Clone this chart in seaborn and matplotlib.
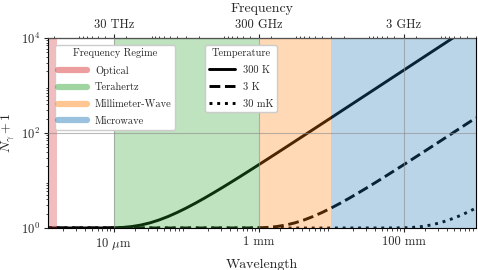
import numpy as np
import pandas as pd
import matplotlib
matplotlib.use("Agg")
import matplotlib.pyplot as plt
import matplotlib.ticker as mticker
from matplotlib.lines import Line2D
import seaborn as sns

# ---- data ----
wl_300K = [1.0e-6, 3.162e-6, 5.623e-6, 7.499e-6, 1.0e-5, 1.3335e-5, 1.778e-5, 2.371e-5,
           3.162e-5, 4.217e-5, 5.623e-5, 7.499e-5, 1.0e-4, 1.3335e-4, 1.778e-4, 2.371e-4,
           3.162e-4, 4.217e-4, 5.623e-4, 1.0e-3, 1.778e-3, 3.162e-3, 1.0e-2, 3.162e-2,
           1.0e-1, 3.162e-1, 1.0]
n_300K = [1.0, 1.0, 1.0002, 1.0017, 1.0083, 1.028, 1.072, 1.153,
          1.281, 1.472, 1.743, 2.117, 2.625, 3.310, 4.230, 5.461,
          7.106, 9.302, 12.23, 21.35, 37.58, 66.44, 209.0, 659.9,
          2086.0, 6595.0, 20851.0]

wl_3K = [1.0e-6, 1.0e-4, 3.162e-4, 5.623e-4, 7.499e-4, 1.0e-3, 1.3335e-3, 1.778e-3,
         2.371e-3, 3.162e-3, 4.217e-3, 5.623e-3, 7.499e-3, 1.0e-2, 1.3335e-2, 1.778e-2,
         2.371e-2, 3.162e-2, 4.217e-2, 5.623e-2, 1.0e-1, 1.778e-1, 3.162e-1, 1.0]
n_3K = [1.0, 1.0, 1.0, 1.0002, 1.0017, 1.0083, 1.028, 1.072,
        1.153, 1.281, 1.472, 1.743, 2.117, 2.625, 3.310, 4.230,
        5.461, 7.106, 9.302, 12.23, 21.35, 37.58, 66.44, 209.0]

wl_30mK = [1.0e-6, 1.0e-2, 3.162e-2, 5.623e-2, 7.499e-2, 1.0e-1, 1.3335e-1, 1.778e-1,
           2.371e-1, 3.162e-1, 4.217e-1, 5.623e-1, 7.499e-1, 1.0]
n_30mK = [1.0, 1.0, 1.0, 1.0002, 1.0017, 1.0083, 1.028, 1.072,
          1.153, 1.281, 1.472, 1.743, 2.117, 2.625]

temperature_labels = ["300 K", "3 K", "30 mK"]
temperature_styles = ["-", "--", ":"]

regime_names = ["Optical", "Terahertz", "Millimeter-Wave", "Microwave"]
regime_start_m = [1.24e-6, 1.0e-5, 1.0e-3, 1.0e-2]
regime_end_m = [1.66e-6, 1.0e-3, 1.0e-2, 1.0]
regime_colors = ["tab:red", "tab:green", "tab:orange", "tab:blue"]

x_ticks_m = [1e-5, 1e-3, 1e-1]
x_tick_labels = [r"10 $\mu$m", "1 mm", "100 mm"]
f_ticks_hz = [3e13, 3e11, 3e9]
f_tick_labels = ["30 THz", "300 GHz", "3 GHz"]

C = 3e8

sns.set_style("ticks")
plt.rcParams["font.family"] = ["cmr10", "DejaVu Serif"]
plt.rcParams["mathtext.fontset"] = "cm"
plt.rcParams["axes.formatter.use_mathtext"] = True
plt.rcParams["axes.unicode_minus"] = False

fig = plt.figure(figsize=(4.78, 2.70), dpi=100)
ax = fig.add_axes([0.1004, 0.1556, 0.8954, 0.7037])

curves = [(wl_300K, n_300K), (wl_3K, n_3K), (wl_30mK, n_30mK)]
frames = []
for (wl, n), lab in zip(curves, temperature_labels):
    frames.append(pd.DataFrame({"wl": wl, "n": n, "T": lab}))
df = pd.concat(frames, ignore_index=True)
for lab, ls in zip(temperature_labels, temperature_styles):
    sub = df[df["T"] == lab]
    sns.lineplot(data=sub, x="wl", y="n", ax=ax, color="black", linestyle=ls,
                 lw=2.1, zorder=2, legend=False, sort=False)

ax.set_xscale("log")
ax.set_yscale("log")
ax.set_xlim(1.24e-6, 1.0)
ax.set_ylim(1, 1e4)

for s, e, c in zip(regime_start_m, regime_end_m, regime_colors):
    ax.axvspan(s, e, color=c, alpha=0.3, lw=0, zorder=2.3)

ax.set_axisbelow(False)
ax.grid(True, which="major", color="0.55", lw=0.8, alpha=0.6)

ax.xaxis.set_major_locator(mticker.FixedLocator(x_ticks_m))
ax.xaxis.set_major_formatter(mticker.FixedFormatter(x_tick_labels))
ax.xaxis.set_minor_locator(mticker.LogLocator(base=10, subs=np.arange(2, 10), numticks=100))
ax.xaxis.set_minor_formatter(mticker.NullFormatter())
ax.yaxis.set_major_locator(mticker.FixedLocator([1, 1e2, 1e4]))
ax.yaxis.set_major_formatter(mticker.LogFormatterSciNotation())
ax.yaxis.set_minor_locator(mticker.LogLocator(base=10, subs=np.arange(2, 10), numticks=100))
ax.yaxis.set_minor_formatter(mticker.NullFormatter())
ax.tick_params(which="major", length=3, width=0.8, labelsize=9, pad=2.5)
ax.tick_params(which="minor", length=1.8, width=0.6)

ax.set_xlabel("Wavelength", fontsize=10, labelpad=5)
ax.set_ylabel(r"$N_\gamma + 1$", fontsize=10)
ax.yaxis.set_label_coords(-0.073, 0.5)

sec = ax.secondary_xaxis("top", functions=(lambda l: C / l, lambda f: C / f))
sec.xaxis.set_major_locator(mticker.FixedLocator(f_ticks_hz))
sec.xaxis.set_major_formatter(mticker.FixedFormatter(f_tick_labels))
sec.xaxis.set_minor_locator(mticker.LogLocator(base=10, subs=np.arange(2, 10), numticks=100))
sec.xaxis.set_minor_formatter(mticker.NullFormatter())
sec.tick_params(which="major", length=3, width=0.8, labelsize=9, pad=2)
sec.tick_params(which="minor", length=1.8, width=0.6)
sec.set_xlabel("Frequency", fontsize=10, labelpad=5)

for sp in ax.spines.values():
    sp.set_color("black")
    sp.set_linewidth(0.8)

reg_handles = [Line2D([0], [0], color=c, alpha=0.45, lw=4.5) for c in regime_colors]
leg1 = ax.legend(reg_handles, regime_names, title="Frequency Regime", loc="upper left",
                 bbox_to_anchor=(0.016, 0.965), borderaxespad=0, fontsize=7.5,
                 title_fontsize=7.5, framealpha=1.0, handlelength=2.7, handletextpad=0.8,
                 labelspacing=0.7, borderpad=0.35)
ax.add_artist(leg1)
t_handles = [Line2D([0], [0], color="black", lw=2.1, linestyle=ls) for ls in temperature_styles]
leg2 = ax.legend(t_handles, temperature_labels, title="Temperature", loc="upper left",
                 bbox_to_anchor=(0.367, 0.965), borderaxespad=0, fontsize=7.5,
                 title_fontsize=7.5, framealpha=1.0, handlelength=2.5, handletextpad=0.8,
                 labelspacing=0.7, borderpad=0.35)
for lg in (leg1, leg2):
    lg.set_zorder(5)

fig.savefig("out.png", dpi=100)
